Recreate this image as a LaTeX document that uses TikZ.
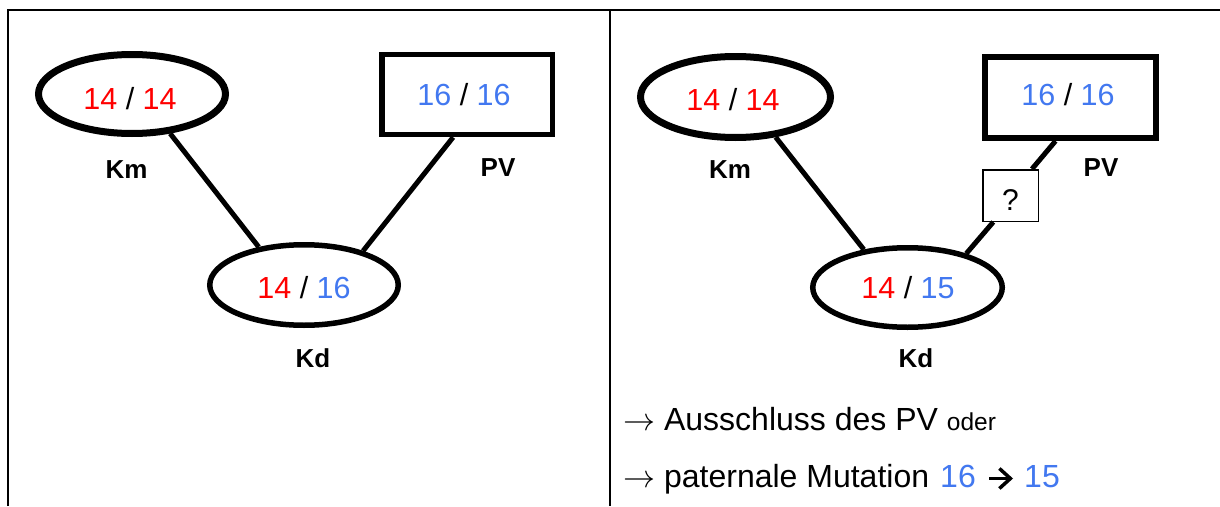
\RequirePackage{fix-cm}
\documentclass[tikz,border=0pt]{standalone}
\usepackage{fontspec}
\setmainfont{Liberation Sans}
\usetikzlibrary{arrows.meta,shapes.geometric}
\definecolor{nred}{RGB}{255,0,0}
\definecolor{nblue}{RGB}{66,120,240}
\begin{document}
\begin{tikzpicture}[x=1pt,y=-1pt,
  frameline/.style={line width=2.5pt},
  ell/.style={draw, ellipse, inner sep=0pt, line width=5.5pt},
  thickell/.style={ell, line width=7pt},
  pvbox/.style={draw, rectangle, inner sep=0pt, line width=5.5pt, minimum width=170.5pt, minimum height=80pt},
  qbox/.style={draw, rectangle, inner sep=0pt, line width=1.5pt, minimum width=55.5pt, minimum height=51.5pt,
    font=\fontsize{30}{36}\selectfont, text height=29.5pt, text depth=0pt},
  num/.style={inner sep=0pt, font=\fontsize{30.5}{36}\selectfont},
  lab/.style={inner sep=0pt, font=\fontsize{26}{31}\selectfont\bfseries},
  link/.style={line width=5pt},
  btxt/.style={inner sep=0pt, anchor=base west, font=\fontsize{32}{38}\selectfont},
  barrow/.style={line width=3.5pt, -{Straight Barb[length=11pt,width=20pt]}}
]
\useasboundingbox (0,0) rectangle (1220,506);
\fill[white] (0,0) rectangle (1220,506);
% frame
\draw[frameline] (8,506) -- (8,10) -- (1220,10);
\draw[frameline] (610,10) -- (610,506);

% ---------- left panel ----------
\node[thickell, minimum width=187pt, minimum height=79pt] (km1) at (132,94) {};
\node[num] (km1t) at (130,99) {\textcolor{nred}{14} / \textcolor{nred}{14}};
\node[pvbox] (pv1) at (467,94.5) {};
\node[num] (pv1t) at (464,95) {\textcolor{nblue}{16} / \textcolor{nblue}{16}};
\node[ell, minimum width=188.5pt, minimum height=80.5pt] (kd1) at (304,285) {};
\node[num] (kd1t) at (304,288) {\textcolor{nred}{14} / \textcolor{nblue}{16}};
\node[lab] (km1l) at (126.5,170) {Km};
\node[lab] (pv1l) at (498,168) {PV};
\node[lab] (kd1l) at (313,358) {Kd};
\draw[link] (km1.-46) -- (kd1.140);
\draw[link] (pv1.-108) -- (kd1.30);

% ---------- right panel ----------
\node[thickell, minimum width=190pt, minimum height=81pt] (km2) at (735.5,97) {};
\node[num] (km2t) at (733,100) {\textcolor{nred}{14} / \textcolor{nred}{14}};
\node[pvbox, minimum width=171pt, minimum height=81pt, line width=6pt] (pv2) at (1070.5,97.5) {};
\node[num] (pv2t) at (1068,95) {\textcolor{nblue}{16} / \textcolor{nblue}{16}};
\node[ell, minimum width=189.5pt, minimum height=79.5pt] (kd2) at (907.5,287.5) {};
\node[num] (kd2t) at (908,288) {\textcolor{nred}{14} / \textcolor{nblue}{15}};
\node[qbox] (q) at (1010.5,195.5) {?};
\node[lab] (km2l) at (730,170) {Km};
\node[lab] (pv2l) at (1101,168) {PV};
\node[lab] (kd2l) at (916,358.5) {Kd};
\draw[link] (km2.-45) -- (kd2.139);
\draw[link] (pv2.-109) -- (q.51);
\draw[link] (q.-123) -- (kd2.30);

% ---------- conclusion text ----------
\node[btxt] (l1) at (623,430) {$\rightarrow$ Ausschluss des PV {\fontsize{24.5}{29}\selectfont oder}};
\node[btxt] (l2) at (623,487) {$\rightarrow$ paternale Mutation};
\node[btxt] (n16) at (940,487) {\textcolor{nblue}{16}};
\node[btxt] (n15) at (1024,487) {\textcolor{nblue}{15}};
\draw[barrow] ([shift={(13,-8.5)}]n16.base east) -- ([shift={(-11,-8.5)}]n15.base west);
\end{tikzpicture}
\end{document}
